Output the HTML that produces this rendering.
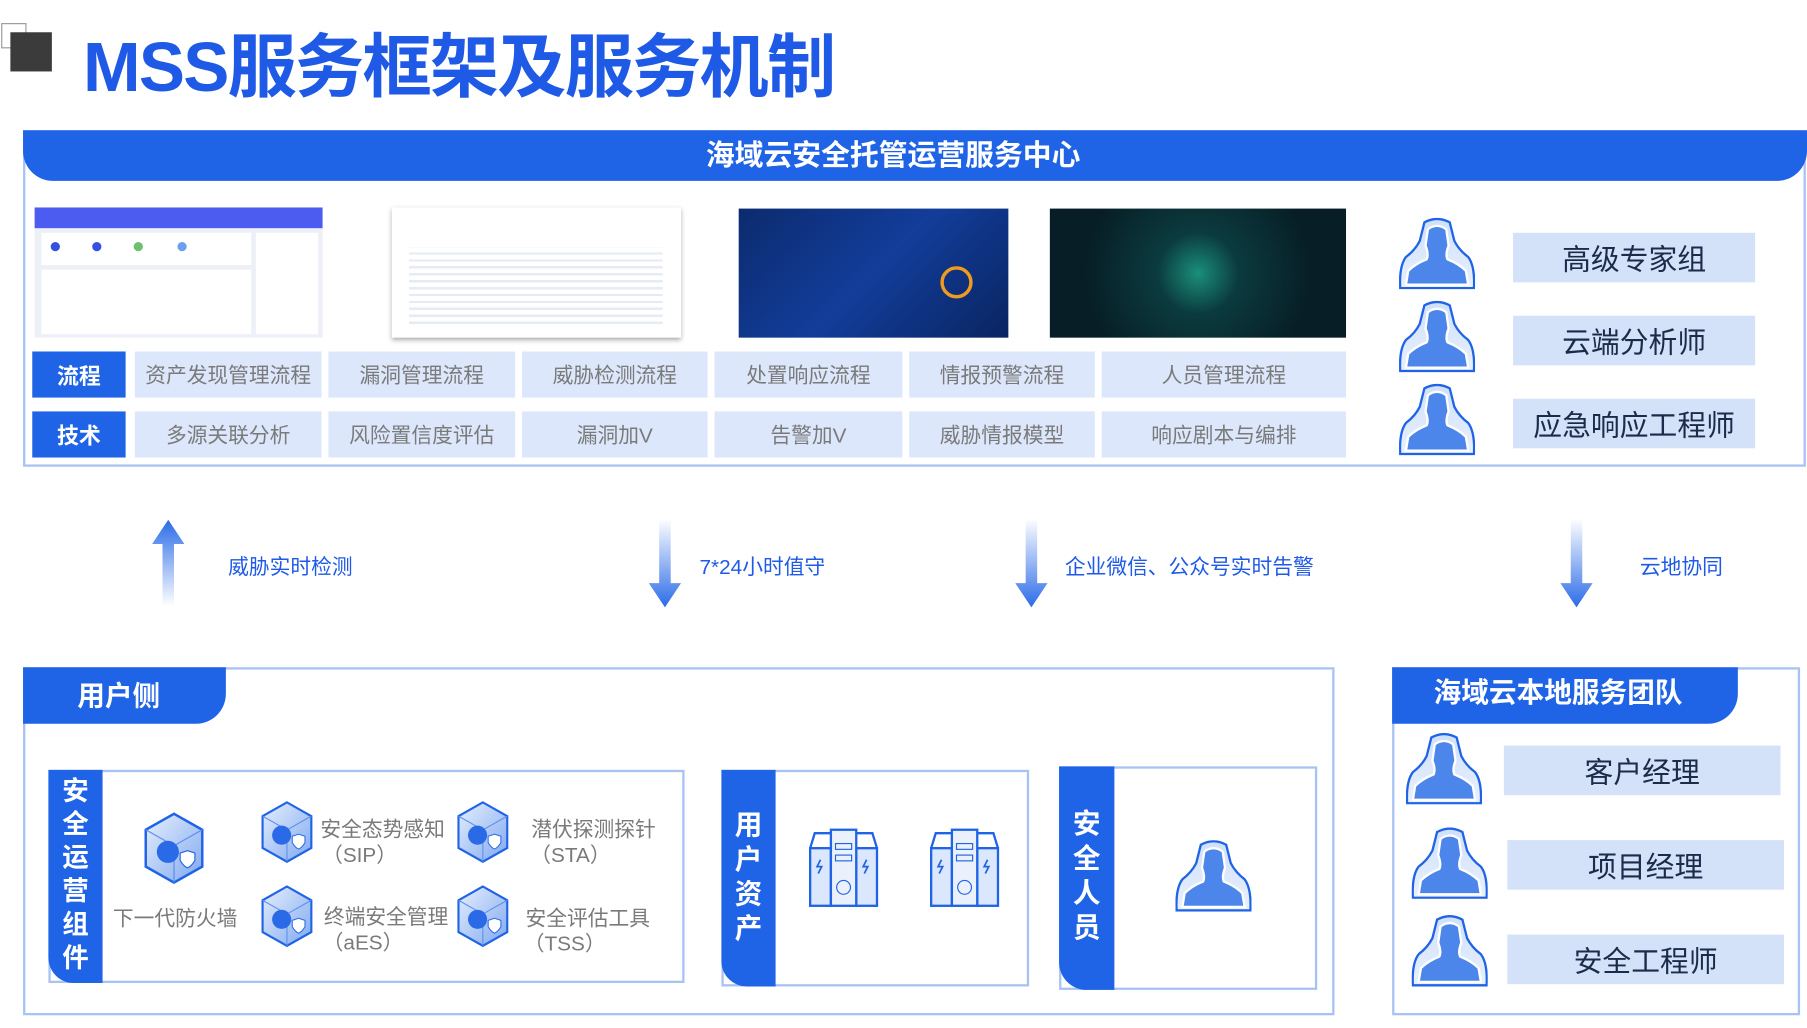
<!DOCTYPE html>
<html><head><meta charset="utf-8"><style>
*{margin:0;padding:0;box-sizing:border-box}
html,body{width:1807px;height:1028px;overflow:hidden;background:#fff}
#w{position:absolute;left:0;top:0;width:1568px;height:892px;transform:scale(1.15242);transform-origin:0 0;font-family:"Liberation Sans","Noto Sans CJK SC",sans-serif}
.a{position:absolute}
.cell{position:absolute;background:#dce7fb;color:#7a7a7a;font-size:18px;display:flex;align-items:center;justify-content:center}
.lab{position:absolute;background:#1f63e6;color:#fff;font-weight:bold;font-size:19px;display:flex;align-items:center;justify-content:center}
.pb{position:absolute;background:#d3e1f9;color:#1d2b4a;font-size:25px;display:flex;align-items:center;justify-content:center}
.al{position:absolute;color:#1f5ae6;font-size:18px}
.band{position:absolute;background:#1f63e6;color:#fff;font-weight:bold;font-size:24px;line-height:30px;text-align:center;padding-top:6px}
.it{position:absolute;color:#7a7a7a;font-size:18px;line-height:22px;text-align:center}
</style></head><body><div id="w">
<svg width="0" height="0" style="position:absolute"><defs>
<linearGradient id="pg" x1="0" y1="0" x2="0" y2="1"><stop offset="0" stop-color="#cfe0fb"/><stop offset="1" stop-color="#e8f0fd"/></linearGradient>
<symbol id="per" viewBox="0 0 66 62"><path d="M22 4 Q33 -2 44 4 L48 20 Q52 28 60 34 Q66 42 65 61 L1 61 Q0 42 6 34 Q14 28 18 20 Z" fill="url(#pg)" stroke="#1f63e6" stroke-width="2"/><path d="M25 10 Q33 4 41 10 L43 24 Q40 32 42 36 Q52 40 58 46 L60 58 L6 58 L8 46 Q14 40 24 36 Q26 32 23 24 Z" fill="#4d86ea" stroke="#fff" stroke-width="2"/></symbol>
<linearGradient id="cg" x1="0" y1="0" x2="1" y2="1"><stop offset="0" stop-color="#e6effd"/><stop offset="1" stop-color="#7fa8ef"/></linearGradient>
<symbol id="cube" viewBox="0 0 50 60"><path d="M25 2 L48 15 L48 45 L25 58 L2 45 L2 15 Z" fill="url(#cg)" stroke="#1f63e6" stroke-width="2"/><path d="M2 15 L25 28 L48 15 M25 28 L25 58" stroke="#5a8fee" fill="none"/><circle cx="20" cy="33" r="9" fill="#2a6ae6"/><path d="M30 34 l6 -2 6 2 v6 q-3 5 -6 6 q-3 -1 -6 -6 z" fill="#fff" stroke="#2a6ae6"/></symbol>
<symbol id="srv" viewBox="0 0 62 70"><rect x="2" y="18" width="18" height="50" fill="#dbe7fc" stroke="#1f63e6" stroke-width="2"/><rect x="42" y="18" width="18" height="50" fill="#dbe7fc" stroke="#1f63e6" stroke-width="2"/><path d="M2 18 L6 5 L20 5 M60 18 L56 5 L42 5" fill="none" stroke="#1f63e6" stroke-width="2"/><rect x="20" y="2" width="22" height="66" fill="#eaf1fd" stroke="#1f63e6" stroke-width="2"/><rect x="24" y="14" width="14" height="5" fill="none" stroke="#1f63e6"/><rect x="24" y="24" width="14" height="5" fill="none" stroke="#1f63e6"/><circle cx="31" cy="52" r="6" fill="none" stroke="#1f63e6"/><path d="M11 28 l-3 6 h4 l-3 6" stroke="#1f63e6" fill="none" stroke-width="1.5"/><path d="M51 28 l-3 6 h4 l-3 6" stroke="#1f63e6" fill="none" stroke-width="1.5"/></symbol>
<linearGradient id="ag" x1="0" y1="0" x2="0" y2="1"><stop offset="0" stop-color="#fff"/><stop offset="1" stop-color="#2c6ce8"/></linearGradient>
<linearGradient id="agu" x1="0" y1="1" x2="0" y2="0"><stop offset="0" stop-color="#fff"/><stop offset="1" stop-color="#2c6ce8"/></linearGradient>
</defs></svg>

<div class="a" style="left:1px;top:20px;width:22px;height:22px;border:1px solid #999"></div>
<div class="a" style="left:9px;top:28px;width:36px;height:34px;background:#3b3b3b"></div>
<div class="a" style="left:72px;top:10px;font-size:60px;font-weight:bold;color:#1f5ae6;letter-spacing:-1.5px;white-space:nowrap">MSS服务框架及服务机制</div>

<div class="a" style="left:20px;top:113px;width:1547px;height:292px;border:2px solid #a8c3f3"></div>
<div class="a" style="left:20px;top:113px;width:1548px;height:44px;background:#1f63e6;border-radius:0 0 26px 26px"></div>
<div class="a" style="left:575px;top:113px;width:400px;height:44px;color:#fff;font-weight:bold;font-size:25px;text-align:center;line-height:44px;white-space:nowrap">海域云安全托管运营服务中心</div>

<div class="a" style="left:30px;top:180px;width:250px;height:113px;background:#eef0f8;overflow:hidden"><div class="a" style="left:0;top:0;width:250px;height:18px;background:#4d5cf0"></div><div class="a" style="left:6px;top:22px;width:182px;height:28px;background:#fff"></div><div class="a" style="left:14px;top:30px;width:8px;height:8px;border-radius:50%;background:#3550e0"></div><div class="a" style="left:50px;top:30px;width:8px;height:8px;border-radius:50%;background:#3550e0"></div><div class="a" style="left:86px;top:30px;width:8px;height:8px;border-radius:50%;background:#6cc070"></div><div class="a" style="left:124px;top:30px;width:8px;height:8px;border-radius:50%;background:#6aa0f0"></div><div class="a" style="left:6px;top:54px;width:182px;height:56px;background:#fff"></div><div class="a" style="left:192px;top:22px;width:54px;height:88px;background:#fff"></div></div>
<div class="a" style="left:340px;top:180px;width:251px;height:113px;background:#fff;box-shadow:0 2px 4px #aaa"><div class="a" style="left:15px;top:35px;width:220px;height:70px;background:repeating-linear-gradient(#fff 0 4px,#e6ebf3 4px 6px)"></div></div>
<div class="a" style="left:641px;top:181px;width:234px;height:112px;background:linear-gradient(135deg,#0c2b6e,#123d9a 50%,#0a2460)"><div class="a" style="left:175px;top:50px;width:28px;height:28px;border:3px solid #f09a1e;border-radius:50%"></div></div>
<div class="a" style="left:911px;top:181px;width:257px;height:112px;background:radial-gradient(circle at 50% 50%,#1a8f7a 0,#0b3b3e 25%,#071e26 70%)"></div>

<div class="lab" style="left:28px;top:305px;width:81px;height:40px">流程</div>
<div class="cell" style="left:117px;top:305px;width:162px;height:40px">资产发现管理流程</div>
<div class="cell" style="left:285px;top:305px;width:162px;height:40px">漏洞管理流程</div>
<div class="cell" style="left:453px;top:305px;width:161px;height:40px">威胁检测流程</div>
<div class="cell" style="left:620px;top:305px;width:163px;height:40px">处置响应流程</div>
<div class="cell" style="left:789px;top:305px;width:161px;height:40px">情报预警流程</div>
<div class="cell" style="left:956px;top:305px;width:212px;height:40px">人员管理流程</div>
<div class="lab" style="left:28px;top:357px;width:81px;height:40px">技术</div>
<div class="cell" style="left:117px;top:357px;width:162px;height:40px">多源关联分析</div>
<div class="cell" style="left:285px;top:357px;width:162px;height:40px">风险置信度评估</div>
<div class="cell" style="left:453px;top:357px;width:161px;height:40px">漏洞加V</div>
<div class="cell" style="left:620px;top:357px;width:163px;height:40px">告警加V</div>
<div class="cell" style="left:789px;top:357px;width:161px;height:40px">威胁情报模型</div>
<div class="cell" style="left:956px;top:357px;width:212px;height:40px">响应剧本与编排</div>

<svg class="a" style="left:1214px;top:189px" width="66" height="62"><use href="#per"/></svg>
<svg class="a" style="left:1214px;top:261px" width="66" height="62"><use href="#per"/></svg>
<svg class="a" style="left:1214px;top:333px" width="66" height="62"><use href="#per"/></svg>
<div class="pb" style="left:1313px;top:202px;width:210px;height:43px">高级专家组</div>
<div class="pb" style="left:1313px;top:274px;width:210px;height:43px">云端分析师</div>
<div class="pb" style="left:1313px;top:346px;width:210px;height:43px">应急响应工程师</div>

<svg class="a" style="left:130px;top:450px" width="32" height="78"><path d="M11 76 V22 H2 L16 1 L30 22 H21 V76 Z" fill="url(#agu)"/></svg>
<svg class="a" style="left:561px;top:450px" width="32" height="78"><path d="M11 0 V56 H2 L16 77 L30 56 H21 V0 Z" fill="url(#ag)"/></svg>
<svg class="a" style="left:879px;top:450px" width="32" height="78"><path d="M11 0 V56 H2 L16 77 L30 56 H21 V0 Z" fill="url(#ag)"/></svg>
<svg class="a" style="left:1352px;top:450px" width="32" height="78"><path d="M11 0 V56 H2 L16 77 L30 56 H21 V0 Z" fill="url(#ag)"/></svg>
<div class="al" style="left:198px;top:478px">威胁实时检测</div>
<div class="al" style="left:607px;top:478px">7*24小时值守</div>
<div class="al" style="left:924px;top:478px">企业微信、公众号实时告警</div>
<div class="al" style="left:1423px;top:478px">云地协同</div>

<div class="a" style="left:20px;top:579px;width:1138px;height:302px;border:2px solid #a8c3f3"></div>
<div class="a" style="left:20px;top:579px;width:176px;height:49px;background:#1f63e6;border-radius:0 0 26px 0;color:#fff;font-weight:bold;font-size:24px;line-height:52px;padding-left:47px">用户侧</div>

<div class="a" style="left:42px;top:668px;width:552px;height:185px;border:2px solid #a8c3f3"></div>
<div class="band" style="left:42px;top:668px;width:47px;height:185px;border-radius:0 0 0 22px;font-size:23px;line-height:29px;padding-top:4px">安<br>全<br>运<br>营<br>组<br>件</div>
<svg class="a" style="left:124px;top:704px" width="54" height="64"><use href="#cube"/></svg>
<div class="it" style="left:96px;top:786px;width:112px">下一代防火墙</div>
<svg class="a" style="left:226px;top:694px" width="46" height="56"><use href="#cube"/></svg>
<svg class="a" style="left:396px;top:694px" width="46" height="56"><use href="#cube"/></svg>
<svg class="a" style="left:226px;top:767px" width="46" height="56"><use href="#cube"/></svg>
<svg class="a" style="left:396px;top:767px" width="46" height="56"><use href="#cube"/></svg>
<div class="it" style="left:272px;top:709px;width:120px">安全态势感知<br><span style="margin-left:-40px">（SIP）</span></div>
<div class="it" style="left:455px;top:709px;width:120px">潜伏探测探针<br><span style="margin-left:-40px">（STA）</span></div>
<div class="it" style="left:275px;top:785px;width:120px">终端安全管理<br><span style="margin-left:-40px">（aES）</span></div>
<div class="it" style="left:450px;top:786px;width:120px">安全评估工具<br><span style="margin-left:-40px">（TSS）</span></div>

<div class="a" style="left:626px;top:668px;width:267px;height:188px;border:2px solid #a8c3f3"></div>
<div class="band" style="left:626px;top:668px;width:47px;height:188px;border-radius:0 0 0 22px;padding-top:34px">用<br>户<br>资<br>产</div>
<svg class="a" style="left:701px;top:718px" width="62" height="70"><use href="#srv"/></svg>
<svg class="a" style="left:806px;top:718px" width="62" height="70"><use href="#srv"/></svg>

<div class="a" style="left:919px;top:665px;width:224px;height:194px;border:2px solid #a8c3f3"></div>
<div class="band" style="left:919px;top:665px;width:48px;height:194px;border-radius:0 0 0 24px;padding-top:36px">安<br>全<br>人<br>员</div>
<svg class="a" style="left:1020px;top:729px" width="66" height="62"><use href="#per"/></svg>

<div class="a" style="left:1208px;top:579px;width:354px;height:302px;border:2px solid #a8c3f3"></div>
<div class="a" style="left:1208px;top:579px;width:300px;height:49px;background:#1f63e6;border-radius:0 0 26px 0;color:#fff;font-weight:bold;font-size:24px;line-height:46px;padding-left:36px;white-space:nowrap">海域云本地服务团队</div>
<svg class="a" style="left:1220px;top:636px" width="66" height="62"><use href="#per"/></svg>
<svg class="a" style="left:1225px;top:718px" width="66" height="62"><use href="#per"/></svg>
<svg class="a" style="left:1225px;top:794px" width="66" height="62"><use href="#per"/></svg>
<div class="pb" style="left:1305px;top:647px;width:240px;height:43px">客户经理</div>
<div class="pb" style="left:1308px;top:729px;width:240px;height:43px">项目经理</div>
<div class="pb" style="left:1308px;top:811px;width:240px;height:43px">安全工程师</div>
</div></body></html>
